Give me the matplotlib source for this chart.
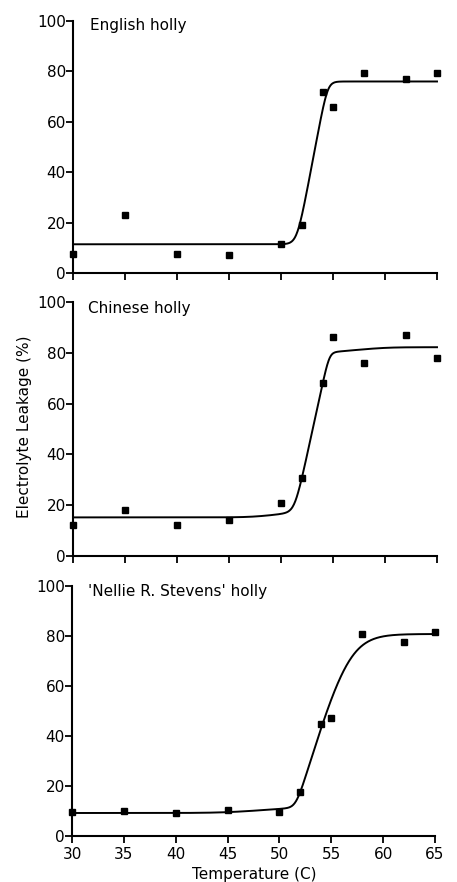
import numpy as np
import matplotlib
matplotlib.use("Agg")
import matplotlib.pyplot as plt

plt.rcParams['font.family'] = ['DejaVu Sans']

# ---- data ----
panel_titles = ["English holly", "Chinese holly", "'Nellie R. Stevens' holly"]
temps = [30, 35, 40, 45, 50, 52, 54, 55, 58, 62, 65]
english = [7.4, 23.2, 7.4, 7.2, 11.5, 18.9, 71.7, 65.7, 79.2, 77.0, 79.2]
chinese = [12.1, 18.2, 12.3, 14.3, 20.9, 30.7, 68.2, 86.2, 76.0, 87.1, 77.8]
nellie = [9.5, 9.9, 9.2, 10.5, 9.5, 17.5, 44.8, 47.3, 80.7, 77.5, 81.6]

# fitted response curves: baseline, then segments (rise, start, end, start corner width, end corner width)
english_fit_base = 11.4
english_fit_segments = [(64.6, 51.54, 54.48, 0.30, 0.25)]
chinese_fit_base = 15.2
chinese_fit_segments = [(1.8, 47.5, 51.0, 1.0, 0.3),
                        (63.2, 51.305, 54.65, 0.30, 0.20),
                        (2.0, 54.8, 60.0, 0.5, 1.0)]
nellie_fit_base = 9.2
nellie_fit_segments = [(2.0, 45.0, 51.0, 1.5, 0.3),
                       (69.6, 51.58, 56.62, 0.30, 1.2)]

yticks = [0, 20, 40, 60, 80, 100]
xticks = [30, 35, 40, 45, 50, 55, 60, 65]


def softplus(z):
    return np.logaddexp(0, z)


def fit_curve(x, base, segments):
    y = np.full_like(x, base, dtype=float)
    for rise, a, b, wa, wb in segments:
        ramp = (wa * softplus((x - a) / wa) - wb * softplus((x - b) / wb)) / (b - a)
        y += rise * ramp
    return y


W, H = 457, 882
fig = plt.figure(figsize=(W / 100, H / 100), dpi=100)

FS = 11
# axes boxes in pixels: left, top, right, bottom
boxes = [(73, 21, 437, 273), (73, 302, 437, 556), (72, 586, 435, 836)]
series = [english, chinese, nellie]
fits = [(english_fit_base, english_fit_segments),
        (chinese_fit_base, chinese_fit_segments),
        (nellie_fit_base, nellie_fit_segments)]
title_pos = [(90, 25.5), (88, 309), (88, 591.5)]

xs = np.linspace(30, 65, 800)
for i in range(3):
    l, t, r, b = boxes[i]
    ax = fig.add_axes([l / W, 1 - b / H, (r - l) / W, (b - t) / H])
    ax.set_xlim(30, 65)
    ax.set_ylim(0, 100)
    for s in ['top', 'right']:
        ax.spines[s].set_visible(False)
    for s in ['left', 'bottom']:
        ax.spines[s].set_linewidth(1.5)
        ax.spines[s].set_color('black')
    ax.set_xticks(xticks)
    ax.set_yticks(yticks)
    ax.tick_params(direction='out', length=4.8, width=1.3, labelsize=FS,
                   colors='black')
    ax.tick_params(axis='y', pad=0.3)
    ax.tick_params(axis='x', pad=3.0)
    if i < 2:
        ax.tick_params(axis='x', labelbottom=False)
    base, segs = fits[i]
    ax.plot(xs, fit_curve(xs, base, segs), color='black', lw=1.4, clip_on=False)
    ax.plot(temps, series[i], linestyle='none', marker='s', markersize=4.5,
            color='black', clip_on=False, zorder=5)
    tx, ty = title_pos[i]
    fig.text(tx / W, 1 - ty / H, panel_titles[i], fontsize=FS,
             va='center', ha='left')

fig.text(254 / W, 1 - 874 / H, "Temperature (C)", fontsize=FS,
         va='center', ha='center')
fig.text(25 / W, 1 - 427 / H, "Electrolyte Leakage (%)", rotation=90,
         fontsize=FS, va='center', ha='center')

fig.savefig("out.png", dpi=100)
